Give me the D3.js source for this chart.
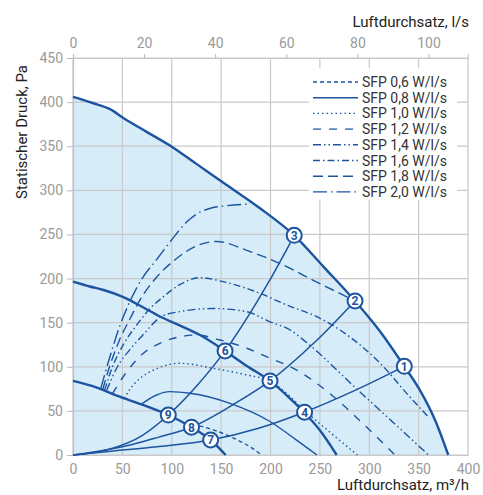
<!DOCTYPE html>
<html lang="de">
<head>
<meta charset="UTF-8">
<title>Kennlinie</title>
<script src="https://cdn.jsdelivr.net/npm/d3@7"></script>
<style>
  body { margin: 0; background: #fff; }
  svg { display: block; font-family: Roboto, "Noto Sans", sans-serif; }
</style>
</head>
<body>
<div id="chart"></div>
<script>
// Kennlinien, [Luftdurchsatz m3/h, Druck Pa]
const maxCurve = [[0,406],[20,399],[37.5,392],[51,382],[75,366],[100,349.5],[125,330],[150.5,310],[189,280],[224,249],[254,213],[285.6,174.6],[311,140],[335.5,100.5],[351,74],[368,36],[380,0]];
const midCurve = [[0,196.5],[17,191],[31,187],[51,179],[70,168],[88,157],[108,147],[128.6,136],[154,118],[176,101],[199.5,84],[218,66],[234,48.5],[250,28],[267,0]];
const lowCurve = [[0,84],[20,78],[45,67],[70,57],[96.5,45.3],[120,31.5],[139.4,17],[154.6,0]];

// Anlagenkennlinien
const sys1 = [[0,0],[17,2],[45,5],[85,9.4],[139.4,17],[187,30],[234,48.5],[285,73],[335.5,100.5]];
const sys2 = [[0,0],[30,5],[60,12],[86,20],[120,31.5],[165,59],[199.5,84],[245,128],[285.6,174.6]];
const sys3 = [[0,0],[35,6],[70,22],[96.5,45.3],[125,78],[154,118],[186,173],[216,232],[224,249]];

// SFP-Linien
const sfp06 = [[114,35.5],[128,33],[159,21],[181,8],[191,0]];
const sfp08 = [[69,57.5],[84.7,68],[98,71.8],[118.5,70],[159,58.6],[199.5,38],[225,18],[247,0]];
const sfp10 = [[52,64],[58,75],[66,85],[85,98],[108,104],[142,98.3],[176,90.7],[199.5,84],[215,71],[235,50],[260,26],[288,0]];
const sfp12 = [[40,69.5],[51,89],[71,115],[88,126.6],[108,134],[125,136],[149,130.4],[176,121],[196,111.4],[227,96],[264,66],[297,32],[326,0]];
const sfp14 = [[34,73],[45,100],[58,120],[70,135],[89.8,157],[108,162.5],[142,166],[176,162.4],[199.5,151],[220,141.7],[236,128],[290,72],[330,31],[360,0]];
const sfp16 = [[32,73.5],[40,100],[52,127],[65,148],[78,166],[90,178],[108,193],[128.6,201],[152,196.5],[189.4,183.3],[216.4,170],[246.8,156.8],[270.4,141.7],[311,104],[341,66],[360,43]];
const sfp18 = [[30,74],[37,100],[47,130],[58,155],[68,176],[85,202],[103,221],[125,237],[145.5,242],[176,232],[209.6,217],[243.4,198],[285.6,174.6]];
const sfp20 = [[28,75],[37,110],[47,145],[58,175],[70,200],[85,222],[100,244],[115,264],[125,273],[140,280],[155,282.5],[178,284.5]];

const sfpNames = ["SFP 0,6 W/l/s","SFP 0,8 W/l/s","SFP 1,0 W/l/s","SFP 1,2 W/l/s","SFP 1,4 W/l/s","SFP 1,6 W/l/s","SFP 1,8 W/l/s","SFP 2,0 W/l/s"];
const sfpDash = ["4,3", null, "1.5,3", "8,8", "8,3,1.5,3,1.5,3", "7,3,1.5,3", "10,5", "14,4,1.5,4"];
const sfpLines = [sfp06, sfp08, sfp10, sfp12, sfp14, sfp16, sfp18, sfp20];

// Betriebspunkte
const pointLabels = ["1","2","3","4","5","6","7","8","9"];
const pointX = [335.5, 285.6, 224, 234.5, 199.5, 154, 139.4, 120, 96.5];
const pointY = [100.5, 174.6, 249, 48.5, 84, 118, 17, 31.5, 45.3];

const xTicks = d3.range(0, 401, 50);
const yTicks = d3.range(0, 451, 50);
const lsTicks = [0, 20, 40, 60, 80, 100];

const width = 483, height = 495;
const blue = "#1c54a0";

const x = d3.scaleLinear().domain([0, 400]).range([73, 468]);
const xLs = d3.scaleLinear().domain([0, 400 / 3.6]).range([73, 468]);
const y = d3.scaleLinear().domain([0, 450]).range([455, 58]);

const svg = d3.select("#chart").append("svg")
    .attr("width", width)
    .attr("height", height);

const line = d3.line()
    .x(d => x(d[0]))
    .y(d => y(d[1]))
    .curve(d3.curveMonotoneX);

const area = d3.area()
    .x(d => x(d[0]))
    .y0(y(0))
    .y1(d => y(d[1]))
    .curve(d3.curveMonotoneX);

// Fläche
svg.append("path")
    .datum(maxCurve)
    .attr("d", area)
    .attr("fill", "#d6ecf9");

// Gitter
svg.append("g").selectAll("line")
    .data(xTicks)
    .join("line")
        .attr("x1", d => x(d)).attr("x2", d => x(d))
        .attr("y1", y(0)).attr("y2", y(450))
        .attr("stroke", "#c9c9c9").attr("stroke-width", 1.2);
svg.append("g").selectAll("line")
    .data(yTicks)
    .join("line")
        .attr("x1", x(0)).attr("x2", x(400))
        .attr("y1", d => y(d)).attr("y2", d => y(d))
        .attr("stroke", "#c9c9c9").attr("stroke-width", 1.2);

// Achsen
const axisBottom = svg.append("g")
    .attr("transform", `translate(0,${y(0)})`)
    .call(d3.axisBottom(x).tickValues(xTicks).tickSize(0).tickPadding(9));
const axisLeft = svg.append("g")
    .attr("transform", `translate(${x(0)},0)`)
    .call(d3.axisLeft(y).tickValues(yTicks).tickSize(6).tickPadding(4));
const axisTop = svg.append("g")
    .attr("transform", `translate(0,${y(450)})`)
    .call(d3.axisTop(xLs).tickValues(lsTicks).tickSize(4).tickPadding(6));

[axisBottom, axisLeft, axisTop].forEach(g => {
    g.select(".domain").attr("stroke", "#b9c3cf").attr("stroke-width", 1.2);
    g.selectAll(".tick line").attr("stroke", "#b9b9b9");
    g.selectAll(".tick text")
        .attr("fill", "#9a9a9a")
        .style("font-size", "14px")
        .style("font-family", "Roboto, sans-serif");
});
axisBottom.select(".domain").attr("stroke", "#c9c9c9");
axisTop.select(".domain").attr("stroke", "#c9c9c9");

// SFP-Linien
svg.append("g").selectAll("path")
    .data(sfpLines)
    .join("path")
        .attr("d", line)
        .attr("fill", "none")
        .attr("stroke", blue)
        .attr("stroke-width", 1.4)
        .attr("stroke-dasharray", (d, i) => sfpDash[i]);

// Anlagenkennlinien
svg.append("g").selectAll("path")
    .data([sys1, sys2, sys3])
    .join("path")
        .attr("d", line)
        .attr("fill", "none")
        .attr("stroke", blue)
        .attr("stroke-width", 1.5);

// Ventilatorkennlinien
svg.append("g").selectAll("path")
    .data([maxCurve, midCurve, lowCurve])
    .join("path")
        .attr("d", line)
        .attr("fill", "none")
        .attr("stroke", blue)
        .attr("stroke-width", 2.4);

// Betriebspunkte
const pts = svg.append("g").selectAll("g")
    .data(pointLabels)
    .join("g")
        .attr("transform", (d, i) => `translate(${x(pointX[i])},${y(pointY[i])})`);
pts.append("circle")
    .attr("r", 7.5)
    .attr("fill", "#fff")
    .attr("stroke", blue)
    .attr("stroke-width", 2);
pts.append("text")
    .text(d => d)
    .attr("text-anchor", "middle")
    .attr("dy", "0.36em")
    .attr("fill", blue)
    .style("font-size", "12px")
    .style("font-weight", "bold");

// Legende
svg.append("rect")
    .attr("x", 309).attr("y", 68)
    .attr("width", 148).attr("height", 132)
    .attr("fill", "#fff");
const leg = svg.append("g").selectAll("g")
    .data(sfpNames)
    .join("g")
        .attr("transform", (d, i) => `translate(313,${82 + i * 15.7})`);
leg.append("line")
    .attr("x1", 0).attr("x2", 45)
    .attr("stroke", blue)
    .attr("stroke-width", 1.4)
    .attr("stroke-dasharray", (d, i) => sfpDash[i]);
leg.append("text")
    .text(d => d)
    .attr("x", 49)
    .attr("dy", "0.36em")
    .attr("fill", "#333")
    .style("font-size", "14px");

// Achsentitel
svg.append("text")
    .text("Luftdurchsatz, l/s")
    .attr("x", 469).attr("y", 27)
    .attr("text-anchor", "end")
    .attr("fill", "#222")
    .style("font-size", "15px");
svg.append("text")
    .text("Luftdurchsatz, m³/h")
    .attr("x", 469).attr("y", 490)
    .attr("text-anchor", "end")
    .attr("fill", "#222")
    .style("font-size", "15px");
svg.append("text")
    .text("Statischer Druck, Pa")
    .attr("transform", "translate(27,132) rotate(-90)")
    .attr("text-anchor", "middle")
    .attr("fill", "#222")
    .style("font-size", "15px");
</script>
</body>
</html>
